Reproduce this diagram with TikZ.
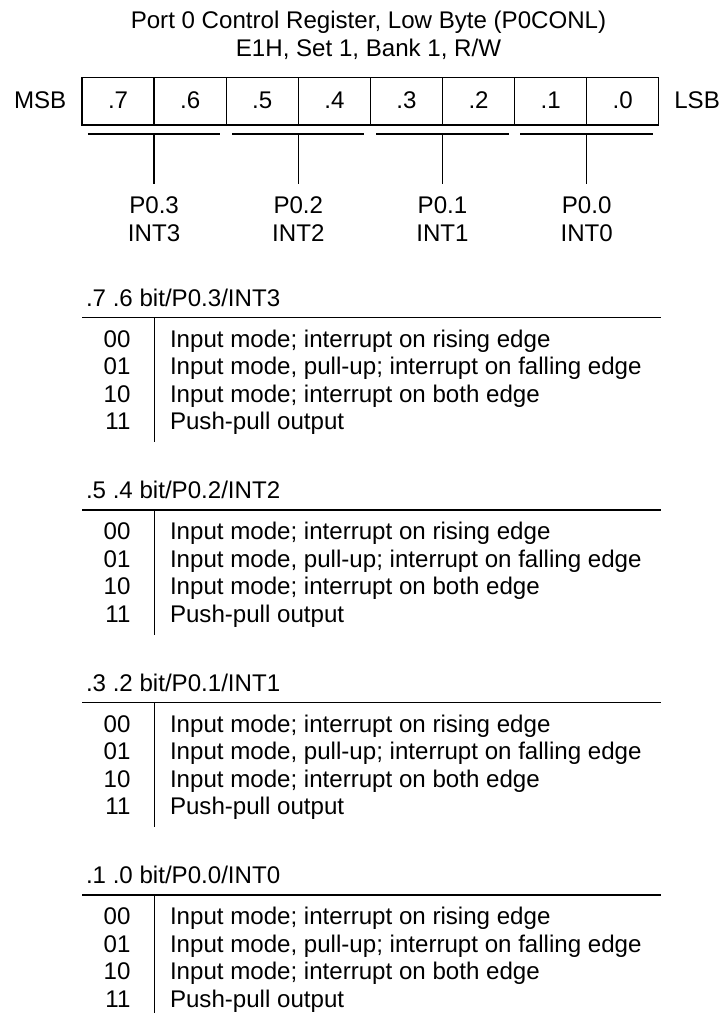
\documentclass[tikz,border=0pt]{standalone}
\usepackage{fontspec}
\setmainfont{Liberation Sans}
\begin{document}
\begin{tikzpicture}[x=1pt,y=-1pt,
  txt/.style={inner sep=0pt, outer sep=0pt, font=\fontsize{24.1}{27.7}\selectfont, anchor=base},
  txtw/.style={txt, anchor=base west},
  txte/.style={txt, anchor=base east},
  cell/.style={draw, line width=1.3pt, minimum width=72.1pt, minimum height=47.7pt, inner sep=0pt, outer sep=0pt},
  bar/.style={line width=1.6pt},
  lead/.style={line width=1.3pt},
  rule/.style={line width=1.6pt},
  sep/.style={line width=1.3pt}]
\useasboundingbox (0,0) rectangle (723,1013);
% title
\node[txt] (t1) at (368.5,28.3) {Port 0 Control Register, Low Byte (P0CONL)};
\node[txt] (t2) at (368.5,56) {E1H, Set 1, Bank 1, R/W};
% MSB / LSB
\node[txtw] (msb) at (14,108.3) {MSB};
\node[txtw] (lsb) at (674.3,108.3) {LSB};
% register cells
\foreach \i/\lab in {0/.7,1/.6,2/.5,3/.4,4/.3,5/.2,6/.1,7/.0}{
  \pgfmathsetmacro{\cx}{82+72.1*\i+36.05}
  \node[cell] (c\i) at (\cx,101.15) {};
  \node[txt] (l\i) at (\cx,108.3) {\lab};
}
% groups
\foreach \g/\pa/\pb in {0/P0.3/INT3,1/P0.2/INT2,2/P0.1/INT1,3/P0.0/INT0}{
  \pgfmathsetmacro{\gl}{82+144.2*\g+5.8}
  \pgfmathsetmacro{\gr}{82+144.2*(\g+1)-6.0}
  \pgfmathsetmacro{\gm}{82+144.2*\g+72.1}
  \coordinate (bl\g) at (\gl,134);
  \coordinate (br\g) at (\gr,134);
  \coordinate (bm\g) at (\gm,134);
  \coordinate (be\g) at (\gm,184.3);
  \draw[bar] (bl\g) -- (br\g);
  \draw[lead] (bm\g) -- (be\g);
  \node[txt] (p\g) at (\gm,213.3) {\pa};
  \node[txt] (n\g) at (\gm,241.7) {\pb};
}
% tables
\foreach \k/\head in {0/{.7 .6 bit/P0.3/INT3},1/{.5 .4 bit/P0.2/INT2},2/{.3 .2 bit/P0.1/INT1},3/{.1 .0 bit/P0.0/INT0}}{
  \pgfmathsetmacro{\yo}{192.5*\k}
  \node[txtw] (h\k) at (86,306+\yo) {\head};
  \coordinate (rl\k) at (82,317.3+\yo);
  \coordinate (rr\k) at (660.5,317.3+\yo);
  \coordinate (vt\k) at (154.2,317.3+\yo);
  \coordinate (vb\k) at (154.2,442.3+\yo);
  \draw[rule] (rl\k) -- (rr\k);
  \draw[sep] (vt\k) -- (vb\k);
  \node[txte] (a\k) at (130.5,347.3+\yo) {00};
  \node[txtw] (d\k a) at (170,347.3+\yo) {Input mode; interrupt on rising edge};
  \node[txte] (b\k) at (130.5,374.8+\yo) {01};
  \node[txtw] (d\k b) at (170,374.8+\yo) {Input mode, pull-up; interrupt on falling edge};
  \node[txte] (e\k) at (130.5,402.3+\yo) {10};
  \node[txtw] (d\k c) at (170,402.3+\yo) {Input mode; interrupt on both edge};
  \node[txte] (f\k) at (130.5,429.8+\yo) {11};
  \node[txtw] (d\k d) at (170,429.8+\yo) {Push-pull output};
}
\end{tikzpicture}
\end{document}
